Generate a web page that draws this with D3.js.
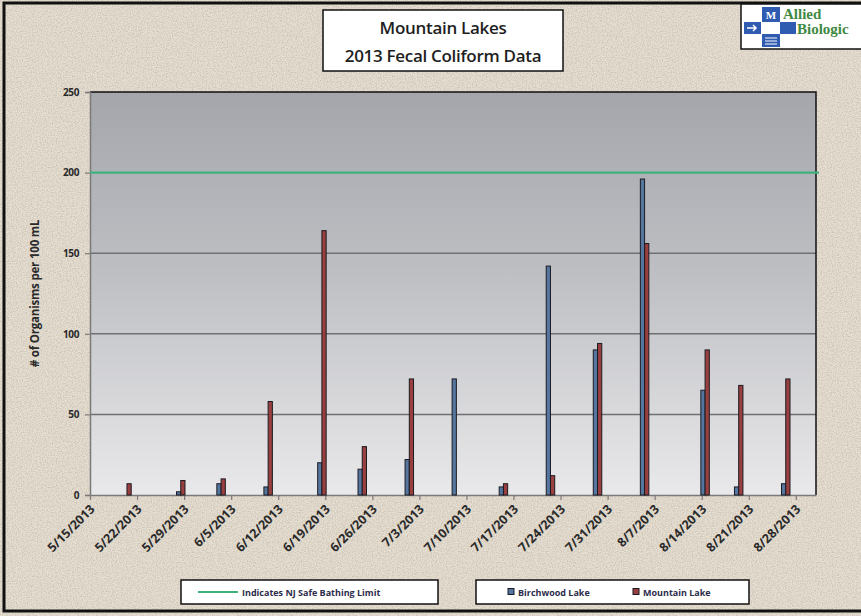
<!DOCTYPE html>
<html>
<head>
<meta charset="utf-8">
<script src="https://cdn.jsdelivr.net/npm/d3@7"></script>
<style>
  html, body { margin: 0; padding: 0; background: #e4dccf; }
  svg { display: block; }
</style>
</head>
<body>
<svg id="chart" width="861" height="616"></svg>
<script>
// Sampling dates and fecal coliform counts (# organisms per 100 mL)
const sampleDates = ["5/20/2013", "5/28/2013", "6/3/2013", "6/10/2013", "6/18/2013",
  "6/24/2013", "7/1/2013", "7/8/2013", "7/15/2013", "7/22/2013", "7/29/2013",
  "8/5/2013", "8/14/2013", "8/19/2013", "8/26/2013"];
const birchwoodLake = [0, 2, 7, 5, 20, 16, 22, 72, 5, 142, 90, 196, 65, 5, 7];
const mountainLake  = [7, 9, 10, 58, 164, 30, 72, 0, 7, 12, 94, 156, 90, 68, 72];
const seriesNames = ["Birchwood Lake", "Mountain Lake"];
const safeLimit = 200;
const yTicks = [0, 50, 100, 150, 200, 250];
const xTickLabels = ["5/15/2013", "5/22/2013", "5/29/2013", "6/5/2013", "6/12/2013",
  "6/19/2013", "6/26/2013", "7/3/2013", "7/10/2013", "7/17/2013", "7/24/2013",
  "7/31/2013", "8/7/2013", "8/14/2013", "8/21/2013", "8/28/2013"];
const axisStart = "5/15/2013", axisEnd = "8/31/2013";

const parse = d3.timeParse("%m/%d/%Y");
const fmt = d3.timeFormat("%-m/%-d/%Y");

const svg = d3.select("#chart");
const W = 861, H = 616;
const plot = { left: 90, right: 816, top: 92, bottom: 495 };

const defs = svg.append("defs");

// paper texture
const paper = defs.append("filter").attr("id", "paper")
  .attr("x", 0).attr("y", 0).attr("width", "100%").attr("height", "100%");
paper.append("feTurbulence").attr("type", "fractalNoise")
  .attr("baseFrequency", 0.8).attr("numOctaves", 2).attr("seed", 7).attr("result", "n");
paper.append("feColorMatrix").attr("in", "n").attr("type", "matrix")
  .attr("values", "0 0 0 0 0.42  0 0 0 0 0.38  0 0 0 0 0.31  0 0 0 -1.8 1.12");

const grad = defs.append("linearGradient").attr("id", "plotBg")
  .attr("x1", 0).attr("y1", 0).attr("x2", 0).attr("y2", 1);
grad.append("stop").attr("offset", "0%").attr("stop-color", "#a5a6ac");
grad.append("stop").attr("offset", "45%").attr("stop-color", "#bebfc3");
grad.append("stop").attr("offset", "100%").attr("stop-color", "#e9e9eb");

// background
svg.append("rect").attr("width", W).attr("height", H).attr("fill", "#e6ded1");
svg.append("rect").attr("width", W).attr("height", H).attr("filter", "url(#paper)").attr("opacity", 0.6);

// outer frame
svg.append("rect").attr("x", 4).attr("y", 3).attr("width", W + 10).attr("height", 608)
  .attr("fill", "none").attr("stroke", "#111").attr("stroke-width", 3);

// scales
const x = d3.scaleTime().domain([parse(axisStart), parse(axisEnd)]).range([plot.left, plot.right]);
const y = d3.scaleLinear().domain([0, 250]).range([plot.bottom, plot.top]);
const dayW = x(d3.timeDay.offset(parse(axisStart), 1)) - x(parse(axisStart));
const barW = dayW * 0.63;

// plot area
svg.append("rect").attr("x", plot.left).attr("y", plot.top)
  .attr("width", plot.right - plot.left).attr("height", plot.bottom - plot.top)
  .attr("fill", "url(#plotBg)");

// gridlines
svg.append("g").selectAll("line").data(yTicks.filter(v => v > 0 && v < 250 && v !== safeLimit))
  .join("line")
  .attr("x1", plot.left).attr("x2", plot.right)
  .attr("y1", d => y(d)).attr("y2", d => y(d))
  .attr("stroke", "#707073").attr("stroke-width", 1.5);

// plot border (top and right)
svg.append("path")
  .attr("d", `M${plot.left},${plot.top}H${plot.right}V${plot.bottom}`)
  .attr("fill", "none").attr("stroke", "#111").attr("stroke-width", 1.5);

// y axis
const yAxis = svg.append("g").attr("transform", `translate(${plot.left},0)`)
  .call(d3.axisLeft(y).tickValues(yTicks).tickSize(5).tickPadding(6));
yAxis.select(".domain").attr("stroke", "#7a7a7a").attr("stroke-width", 1.5);
yAxis.selectAll(".tick line").attr("stroke", "#7a7a7a").attr("stroke-width", 1.2);
yAxis.selectAll(".tick text")
  .attr("font-family", "'Open Sans', sans-serif").attr("font-weight", "bold")
  .attr("font-size", 10).attr("fill", "#2a2a2a").attr("letter-spacing", -0.4);

// x axis
const xAxis = svg.append("g").attr("transform", `translate(0,${plot.bottom})`)
  .call(d3.axisBottom(x).tickValues(xTickLabels.map(parse)).tickFormat(fmt).tickSize(5).tickSizeOuter(0));
xAxis.select(".domain").attr("stroke", "#7a7a7a").attr("stroke-width", 1.5);
xAxis.selectAll(".tick line").attr("stroke", "#7a7a7a").attr("stroke-width", 1.2);
xAxis.selectAll(".tick text")
  .attr("font-family", "'Open Sans', sans-serif").attr("font-weight", "bold")
  .attr("font-size", 12.5).attr("fill", "#2a2a2a")
  .attr("text-anchor", "end")
  .attr("dy", null).attr("y", 0)
  .attr("transform", "translate(5,15) rotate(-45)");

// y axis title
svg.append("text")
  .attr("transform", `translate(39,${(plot.top + plot.bottom) / 2}) rotate(-90)`)
  .attr("text-anchor", "middle")
  .attr("font-family", "'Open Sans', sans-serif").attr("font-weight", "bold")
  .attr("font-size", 11.5).attr("fill", "#2a2a2a").attr("letter-spacing", -0.2)
  .text("# of Organisms per 100 mL");

// bars
const rows = sampleDates.map((d, i) => ({ date: parse(d), values: [birchwoodLake[i], mountainLake[i]] }));
const fills = ["#55769f", "#9a3f3f"];
const bars = svg.append("g");
rows.forEach(r => {
  const cx = x(r.date) + dayW / 2;
  r.values.forEach((v, k) => {
    if (v <= 0) return;
    bars.append("rect")
      .attr("x", cx - barW + k * barW).attr("y", y(v))
      .attr("width", barW).attr("height", y(0) - y(v))
      .attr("fill", fills[k]).attr("stroke", "#1b1b22").attr("stroke-width", 1);
  });
});

// NJ safe bathing limit
svg.append("line")
  .attr("x1", plot.left).attr("x2", plot.right + 3)
  .attr("y1", y(safeLimit)).attr("y2", y(safeLimit))
  .attr("stroke", "#3fb17a").attr("stroke-width", 2.2);

// title box
svg.append("rect").attr("x", 323).attr("y", 10).attr("width", 240).attr("height", 61)
  .attr("fill", "#fff").attr("stroke", "#111").attr("stroke-width", 1.5);
const title = svg.append("text").attr("text-anchor", "middle")
  .attr("font-family", "'Open Sans', sans-serif").attr("font-size", 17)
  .attr("font-weight", 600).attr("fill", "#1e1e1e").attr("letter-spacing", -0.3);
title.append("tspan").attr("x", 443).attr("y", 34).text("Mountain Lakes");
title.append("tspan").attr("x", 443).attr("y", 62).text("2013 Fecal Coliform Data");

// logo
const logo = svg.append("g");
logo.append("rect").attr("x", 741).attr("y", 4).attr("width", 130).attr("height", 45)
  .attr("fill", "#fff").attr("stroke", "#111").attr("stroke-width", 1.5);
const blue = "#2f5bb0";
logo.append("rect").attr("x", 762).attr("y", 7).attr("width", 18).attr("height", 15).attr("fill", blue);
logo.append("rect").attr("x", 744).attr("y", 22).attr("width", 17).attr("height", 12).attr("fill", blue);
logo.append("rect").attr("x", 780).attr("y", 22).attr("width", 16).attr("height", 12).attr("fill", blue);
logo.append("rect").attr("x", 762).attr("y", 34).attr("width", 18).attr("height", 13).attr("fill", blue);
logo.append("text").attr("x", 771).attr("y", 19).attr("text-anchor", "middle")
  .attr("font-family", "'Liberation Serif', serif").attr("font-weight", "bold")
  .attr("font-size", 11).attr("fill", "#fff").text("M");
logo.append("path").attr("d", "M747,28 h9 M753,25 l3,3 l-3,3").attr("stroke", "#fff").attr("stroke-width", 1.5).attr("fill", "none");
logo.append("path").attr("d", "M765,38 h12 M765,41 h12 M765,44 h12").attr("stroke", "#fff").attr("stroke-width", 1);
logo.append("text").attr("x", 783).attr("y", 19)
  .attr("font-family", "'Liberation Serif', serif").attr("font-weight", "bold")
  .attr("font-size", 15).attr("fill", "#3f8a43").text("Allied");
logo.append("text").attr("x", 797).attr("y", 34)
  .attr("font-family", "'Liberation Serif', serif").attr("font-weight", "bold")
  .attr("font-size", 15).attr("fill", "#3f8a43").text("Biologic");

// legends
const legFont = "'Open Sans', sans-serif";
svg.append("rect").attr("x", 181).attr("y", 580).attr("width", 257).attr("height", 24)
  .attr("fill", "#fff").attr("stroke", "#111").attr("stroke-width", 1.5);
svg.append("line").attr("x1", 198).attr("x2", 238).attr("y1", 592).attr("y2", 592)
  .attr("stroke", "#3fb17a").attr("stroke-width", 2);
svg.append("text").attr("x", 242).attr("y", 595.5)
  .attr("font-family", legFont).attr("font-weight", "bold").attr("font-size", 9)
  .attr("fill", "#2c2c4c").text("Indicates NJ Safe Bathing Limit");

svg.append("rect").attr("x", 476).attr("y", 580).attr("width", 273).attr("height", 24)
  .attr("fill", "#fff").attr("stroke", "#111").attr("stroke-width", 1.5);
const legItems = [{ sx: 508, tx: 518 }, { sx: 633, tx: 643 }];
seriesNames.forEach((name, k) => {
  svg.append("rect").attr("x", legItems[k].sx).attr("y", 588.5).attr("width", 6).attr("height", 6)
    .attr("fill", fills[k]).attr("stroke", "#1b1b22").attr("stroke-width", 1);
  svg.append("text").attr("x", legItems[k].tx).attr("y", 595.5)
    .attr("font-family", legFont).attr("font-weight", "bold").attr("font-size", 9)
    .attr("fill", "#2c2c4c").text(name);
});
</script>
</body>
</html>
